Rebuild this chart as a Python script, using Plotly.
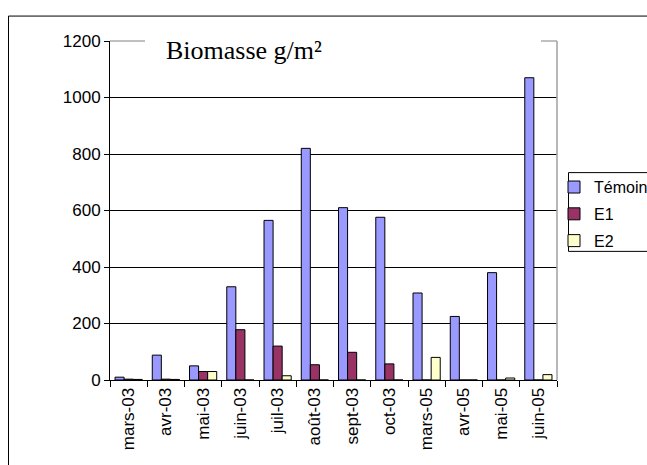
import plotly.graph_objects as go

categories = ["mars-03", "avr-03", "mai-03", "juin-03", "juil-03", "août-03",
              "sept-03", "oct-03", "mars-05", "avr-05", "mai-05", "juin-05"]
temoin = [10, 88, 50, 330, 565, 820, 610, 576, 308, 225, 380, 1070]
e1 = [3, 3, 30, 178, 120, 54, 98, 57, 0, 0, 0, 0]
e2 = [2, 2, 30, 0, 15, 0, 0, 0, 80, 0, 7, 19]
y_ticks = [0, 200, 400, 600, 800, 1000, 1200]

W, H = 647, 465
PL, PR, PT, PB = 110, 557, 40.5, 380.5   # plot area in window pixels
L, T = PL, PT
pw, ph = PR - PL, PB - PT
R = W - L - pw
B = H - T - ph

def px(x):
    return (x - PL) / pw

def py(y):
    return (PB - y) / ph

font = dict(family="Arial, Liberation Sans, sans-serif", size=17, color="black")

fig = go.Figure()
for name, vals, col in [("Témoin", temoin, "#9999FF"), ("E1", e1, "#993366"), ("E2", e2, "#FFFFCC")]:
    fig.add_bar(x=categories, y=vals, name=name, legendgroup=name,
                marker=dict(color=col, line=dict(color="black", width=1)))

shapes = [
    dict(type="rect", xref="paper", yref="paper", x0=px(145), x1=px(541), y0=py(46), y1=py(35),
         fillcolor="white", line=dict(width=0), layer="above"),
    dict(type="line", xref="paper", yref="paper", x0=px(110), x1=px(145), y0=1, y1=1,
         line=dict(color="#808080", width=1), layer="above"),
    dict(type="line", xref="paper", yref="paper", x0=px(541), x1=1, y0=1, y1=1,
         line=dict(color="#808080", width=1), layer="above"),
    dict(type="line", xref="paper", yref="paper", x0=1, x1=1, y0=0, y1=1,
         line=dict(color="#A0A0A0", width=1.5), layer="above"),
    # outer chart border
    dict(type="rect", xref="paper", yref="paper", x0=px(8.5), x1=px(700), y0=py(520), y1=py(15.5),
         fillcolor="rgba(0,0,0,0)", line=dict(color="black", width=1), layer="above"),
    # legend box
    dict(type="rect", xref="paper", yref="paper", x0=px(568.5), x1=px(700), y0=py(251.5), y1=py(172.5),
         fillcolor="white", line=dict(color="black", width=1), layer="above"),
]

fig.update_layout(
    width=W, height=H,
    margin=dict(l=L, r=R, t=T, b=B, autoexpand=False),
    paper_bgcolor="white", plot_bgcolor="white",
    font=font,
    barmode="group", bargap=0.27, bargroupgap=0,
    showlegend=True,
    legend=dict(x=px(554), y=py(170), xanchor="left", yanchor="top",
                borderwidth=0, bgcolor="rgba(0,0,0,0)",
                font=dict(family="Arial, Liberation Sans, sans-serif", size=16, color="black"),
                itemwidth=30, tracegroupgap=3, traceorder="grouped"),
    shapes=shapes,
    annotations=[dict(text="Biomasse g/m²", xref="paper", yref="paper", x=px(164), y=py(50),
                      xanchor="left", yanchor="middle", showarrow=False,
                      font=dict(family="Liberation Serif, Times New Roman, serif", size=26, color="black"))],
    xaxis=dict(type="category", tickangle=-90, tickson="boundaries", ticks="outside", ticklen=6,
               tickcolor="black", showline=True, linecolor="black", linewidth=1, showgrid=False,
               tickfont=font),
    yaxis=dict(range=[0, 1200], tickvals=y_ticks, ticks="outside", ticklen=5, tickcolor="black",
               showline=True, linecolor="black", linewidth=1, showgrid=True, gridcolor="black",
               gridwidth=1, zeroline=False, tickfont=font),
)

fig.write_html("out.html", config={"displayModeBar": False},
               post_script="document.body.style.margin='0';document.body.style.overflow='hidden';")
